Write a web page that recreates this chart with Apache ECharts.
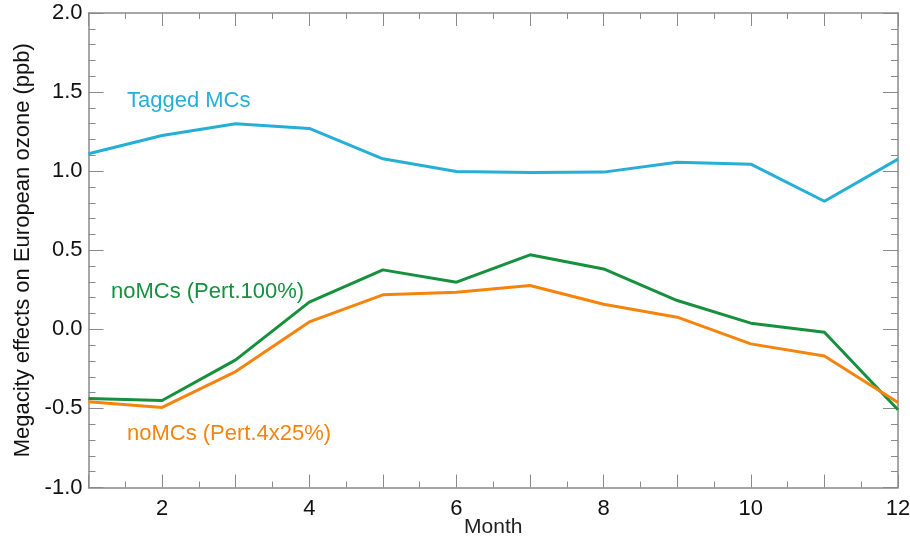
<!DOCTYPE html>
<html><head><meta charset="utf-8">
<script src="https://cdn.jsdelivr.net/npm/echarts@6/dist/echarts.min.js"></script>
<style>html,body{margin:0;padding:0;background:#fff}#c{width:910px;height:540px}</style>
</head><body><div id="c"></div>
<script>
const months = [1,2,3,4,5,6,7,8,9,10,11,12];
const taggedMCs = [1.11,1.225,1.30,1.27,1.078,0.998,0.991,0.994,1.057,1.044,0.81,1.076];
const noMCs100 = [-0.437,-0.45,-0.193,0.172,0.376,0.298,0.471,0.382,0.182,0.039,-0.018,-0.509];
const noMCs4x25 = [-0.458,-0.494,-0.267,0.047,0.218,0.235,0.277,0.159,0.077,-0.092,-0.168,-0.463];
const seriesNames = ['Tagged MCs','noMCs (Pert.100%)','noMCs (Pert.4x25%)'];
const colors = ['#25afd7','#16903c','#f5840f'];

const font = 'Liberation Sans, Arial, Helvetica, sans-serif';
const axisGrey = '#8a8a8a';
const chart = echarts.init(document.getElementById('c'));
const pairs = a => months.map((m,i)=>[m,a[i]]);
const baseX = {
  type:'value', min:1, max:12, interval:1,
  axisLine:{show:true,onZero:false,lineStyle:{color:axisGrey,width:1.5}},
  axisTick:{show:true,inside:true,length:13,lineStyle:{color:axisGrey,width:1}},
  minorTick:{show:true,splitNumber:2,length:6,lineStyle:{color:axisGrey,width:1}},
  splitLine:{show:false}
};
const baseY = {
  type:'value', min:-1, max:2, interval:0.5,
  axisLine:{show:true,onZero:false,lineStyle:{color:axisGrey,width:1.5}},
  axisTick:{show:true,inside:true,length:15,lineStyle:{color:axisGrey,width:1}},
  minorTick:{show:true,splitNumber:5,length:7,lineStyle:{color:axisGrey,width:1}},
  splitLine:{show:false}
};
chart.setOption({
  animation:false,
  backgroundColor:'#fff',
  grid:{left:88.5,right:12,top:13,bottom:52.5,containLabel:false,outerBoundsMode:'none'},
  xAxis:[
    Object.assign({}, baseX, {position:'bottom',
      name:'Month', nameLocation:'middle', nameGap:29, nameMoveOverlap:false,
      nameTextStyle:{fontFamily:font,fontSize:21,color:'#222',verticalAlign:'top'},
      axisLabel:{fontFamily:font,fontSize:22,color:'#111',margin:10,
        formatter:v=> (v%2===0? String(v):'')}}),
    Object.assign({}, baseX, {position:'top', axisLabel:{show:false}})
  ],
  yAxis:[
    Object.assign({}, baseY, {position:'left',
      name:'Megacity effects on European ozone (ppb)', nameLocation:'middle', nameGap:55,
      nameTextStyle:{fontFamily:font,fontSize:22,color:'#111'},
      axisLabel:{fontFamily:font,fontSize:22,color:'#111',margin:6,
        formatter:v=>v.toFixed(1)}}),
    Object.assign({}, baseY, {position:'right', axisLabel:{show:false}})
  ],
  series:[taggedMCs,noMCs100,noMCs4x25].map((d,i)=>({
    type:'line', name:seriesNames[i], data:pairs(d), symbol:'none',
    lineStyle:{color:colors[i],width:3}, z:3
  })),
  graphic:[
    {type:'text',left:127,top:90,style:{text:seriesNames[0],fill:colors[0],font:'22px '+font}},
    {type:'text',left:111,top:281,style:{text:seriesNames[1],fill:colors[1],font:'22px '+font}},
    {type:'text',left:127,top:423,style:{text:seriesNames[2],fill:colors[2],font:'22px '+font}}
  ]
});
</script></body></html>
